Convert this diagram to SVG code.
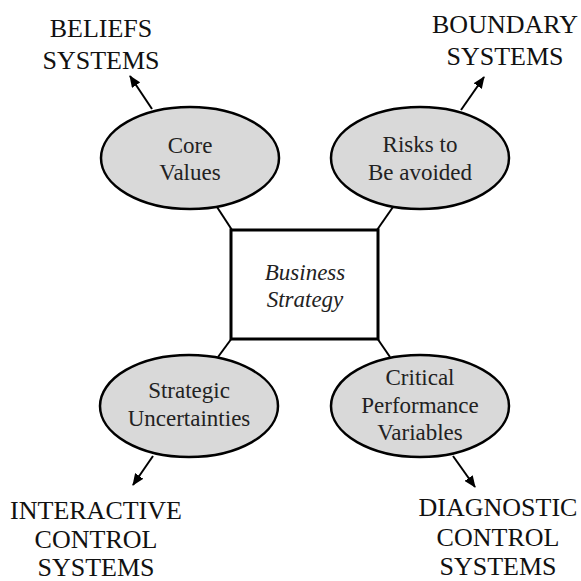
<svg xmlns="http://www.w3.org/2000/svg" width="581" height="581" viewBox="0 0 581 581">
<defs>
<style>
.oval{fill:#d9d9d9;stroke:#000;stroke-width:2.5}
.box{fill:#fff;stroke:#000;stroke-width:3}
.ln{stroke:#000;stroke-width:2;fill:none}
.ar{stroke:#000;stroke-width:2;fill:none;marker-end:url(#ah)}
.t{font-family:"Liberation Serif","Times New Roman",serif;font-size:23px;fill:#222;text-anchor:middle}
.big{font-family:"Liberation Serif","Times New Roman",serif;font-size:26px;fill:#111;text-anchor:middle}
.it{font-style:italic}
</style>
<marker id="ah" viewBox="0 0 12 10" refX="11" refY="5" markerWidth="12" markerHeight="10" markerUnits="userSpaceOnUse" orient="auto"><path d="M0,0 L12,5 L0,10 z" fill="#000"/></marker>
</defs>
<rect width="581" height="581" fill="#fff"/>
<g id="connectors">
<line class="ln" x1="217" y1="207" x2="232" y2="230"/>
<line class="ln" x1="393" y1="207" x2="377" y2="230"/>
<line class="ln" x1="232" y1="338" x2="218" y2="357"/>
<line class="ln" x1="377" y1="338" x2="390" y2="357"/>
<line class="ar" x1="152" y1="109" x2="130" y2="76"/>
<line class="ar" x1="461" y1="110" x2="484" y2="77"/>
<line class="ar" x1="153" y1="456" x2="133" y2="485"/>
<line class="ar" x1="453" y1="456" x2="475" y2="487"/>
</g>
<g id="strategy">
<rect class="box" x="231" y="230" width="147" height="109"/>
<text class="t it" x="305" y="280">Business</text>
<text class="t it" x="305" y="307">Strategy</text>
</g>
<g id="core-values">
<ellipse class="oval" cx="190" cy="158" rx="89" ry="51"/>
<text class="t" x="190" y="153">Core</text>
<text class="t" x="190" y="180">Values</text>
</g>
<g id="risks">
<ellipse class="oval" cx="420" cy="158" rx="89" ry="51"/>
<text class="t" x="420" y="152">Risks to</text>
<text class="t" x="420" y="180">Be avoided</text>
</g>
<g id="uncertainties">
<ellipse class="oval" cx="189" cy="406" rx="89" ry="51"/>
<text class="t" x="189" y="398">Strategic</text>
<text class="t" x="189" y="426">Uncertainties</text>
</g>
<g id="variables">
<ellipse class="oval" cx="420" cy="406" rx="89" ry="51"/>
<text class="t" x="420" y="385">Critical</text>
<text class="t" x="420" y="413">Performance</text>
<text class="t" x="420" y="440">Variables</text>
</g>
<g id="beliefs">
<text class="big" x="101" y="37">BELIEFS</text>
<text class="big" x="101" y="69">SYSTEMS</text>
</g>
<g id="boundary">
<text class="big" x="505" y="33">BOUNDARY</text>
<text class="big" x="505" y="65">SYSTEMS</text>
</g>
<g id="interactive">
<text class="big" x="96" y="519">INTERACTIVE</text>
<text class="big" x="96" y="548">CONTROL</text>
<text class="big" x="96" y="576">SYSTEMS</text>
</g>
<g id="diagnostic">
<text class="big" x="498" y="516">DIAGNOSTIC</text>
<text class="big" x="498" y="546">CONTROL</text>
<text class="big" x="498" y="575">SYSTEMS</text>
</g>
</svg>
